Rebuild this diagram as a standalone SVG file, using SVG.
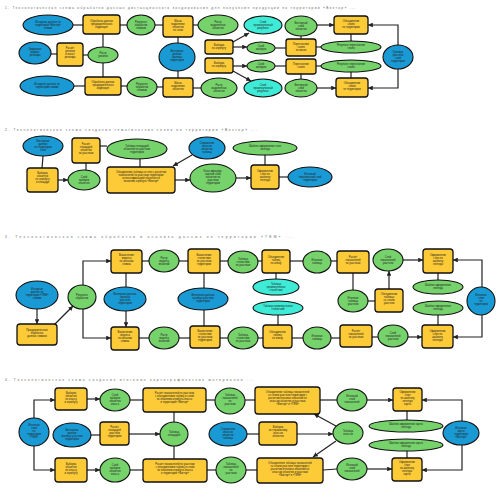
<svg xmlns="http://www.w3.org/2000/svg" width="500" height="500" viewBox="0 0 500 500">
<style>
.y{fill:#FDCB38;stroke:#111;stroke-width:1.3}
.g{fill:#76D26B;stroke:#111;stroke-width:1.1}
.b{fill:#1A9AD4;stroke:#111;stroke-width:1.1}
.c{fill:#3DEBD6;stroke:#111;stroke-width:1.1}
.e path,.e line{stroke:#222;stroke-width:1.2;fill:none}
.ar{marker-end:url(#a)}
.t{font-family:"Liberation Sans",Arial,sans-serif;font-size:2.6px;fill:#222;text-anchor:middle}
.h{font-family:"Liberation Sans",Arial,sans-serif;font-size:3.3px;fill:#666}
</style>
<defs>
<marker id="a" viewBox="0 0 6 6" refX="6" refY="3" markerWidth="4" markerHeight="4" orient="auto"><path d="M0,0L6,3L0,6z" fill="#222"/></marker>
</defs>
<rect width="500" height="500" fill="#fff"/>
<text class="h" x="5" y="9" textLength="350">1. Технологическая схема обработки данных дистанционного зондирования для получения продукции по территории «Вектор» ...</text>
<text class="h" x="5" y="131" textLength="252">2. Технологическая схема создания тематических слоёв по территории «Вектор» ...</text>
<text class="h" x="5" y="238" textLength="288">3. Технологическая схема обработки и анализа данных по территории «ТЕМ» ...</text>
<text class="h" x="5" y="381" textLength="248">4. Технологическая схема создания итоговых картографических материалов ...</text>

<g class="e">
<!-- section 1 -->
<line x1="73" y1="25" x2="83" y2="25"/>
<line x1="120" y1="25" x2="127" y2="25"/>
<line x1="155" y1="25" x2="163" y2="25"/>
<line x1="193" y1="25" x2="198" y2="25"/>
<line class="ar" x1="317" y1="25" x2="334" y2="25"/>
<line x1="51" y1="54" x2="57" y2="54"/>
<line x1="83" y1="55" x2="88" y2="55"/>
<line x1="103" y1="34" x2="103" y2="47"/>
<line x1="103" y1="63" x2="103" y2="77"/>
<line x1="178" y1="37" x2="178" y2="43"/>
<line x1="178" y1="71" x2="178" y2="78"/>
<line class="ar" x1="233" y1="47" x2="247" y2="47"/>
<line class="ar" x1="233" y1="42" x2="249" y2="33"/>
<line class="ar" x1="233" y1="66" x2="247" y2="66"/>
<line class="ar" x1="233" y1="71" x2="251" y2="81"/>
<line x1="275" y1="48" x2="286" y2="48"/>
<line x1="275" y1="66" x2="286" y2="66"/>
<line x1="316" y1="47" x2="321" y2="47"/>
<line x1="316" y1="66" x2="321" y2="66"/>
<line x1="301" y1="36" x2="301" y2="39"/>
<line x1="301" y1="74" x2="301" y2="79"/>
<line x1="351" y1="34" x2="351" y2="41"/>
<line x1="351" y1="72" x2="351" y2="78"/>
<path class="ar" d="M398,45V25H368"/>
<path class="ar" d="M398,69V88H368"/>
<line x1="74" y1="86" x2="85" y2="86"/>
<line x1="121" y1="86" x2="127" y2="86"/>
<line x1="157" y1="87" x2="163" y2="87"/>
<line x1="193" y1="88" x2="201" y2="88"/>
<line class="ar" x1="317" y1="88" x2="336" y2="88"/>
<!-- section 2 -->
<line x1="43" y1="156" x2="42" y2="168"/>
<line class="ar" x1="58" y1="180" x2="68" y2="180"/>
<line x1="86" y1="170" x2="86" y2="163"/>
<line x1="100" y1="146" x2="107" y2="146"/>
<line x1="140" y1="159" x2="140" y2="167"/>
<line class="ar" x1="192" y1="155" x2="173" y2="166"/>
<line class="ar" x1="175" y1="180" x2="190" y2="180"/>
<line class="ar" x1="236" y1="178" x2="251" y2="178"/>
<line x1="265" y1="155" x2="265" y2="165"/>
<line x1="279" y1="177" x2="288" y2="177"/>
<!-- section 3 -->
<line class="ar" x1="37" y1="309" x2="37" y2="324"/>
<line class="ar" x1="54" y1="325" x2="73" y2="306"/>
<path class="ar" d="M83,285V261H111"/>
<path class="ar" d="M83,309V338H111"/>
<line x1="126" y1="273" x2="126" y2="287"/>
<line class="ar" x1="126" y1="311" x2="126" y2="327"/>
<line x1="142" y1="261" x2="149" y2="261"/>
<line x1="179" y1="261" x2="188" y2="261"/>
<line x1="220" y1="261" x2="228" y2="261"/>
<line x1="258" y1="261" x2="262" y2="261"/>
<line x1="290" y1="261" x2="303" y2="261"/>
<line x1="331" y1="261" x2="337" y2="261"/>
<line x1="204" y1="273" x2="204" y2="288"/>
<line x1="204" y1="310" x2="204" y2="326"/>
<line x1="276" y1="273" x2="276" y2="279"/>
<line x1="278" y1="315" x2="278" y2="325"/>
<line x1="353" y1="273" x2="353" y2="290"/>
<line x1="368" y1="301" x2="375" y2="301"/>
<line class="ar" x1="389" y1="289" x2="389" y2="271"/>
<line class="ar" x1="403" y1="260" x2="423" y2="260"/>
<line x1="438" y1="273" x2="438" y2="280"/>
<line x1="438" y1="315" x2="438" y2="325"/>
<path class="ar" d="M482,287V260H453"/>
<path class="ar" d="M482,315V337H453"/>
<line x1="139" y1="338" x2="149" y2="338"/>
<line x1="179" y1="338" x2="190" y2="338"/>
<line x1="220" y1="338" x2="228" y2="338"/>
<line x1="258" y1="338" x2="263" y2="338"/>
<line x1="292" y1="338" x2="303" y2="338"/>
<line x1="331" y1="338" x2="340" y2="338"/>
<line x1="372" y1="337" x2="378" y2="337"/>
<line class="ar" x1="408" y1="337" x2="422" y2="337"/>
<!-- section 4 -->
<path class="ar" d="M34,418V400H55"/>
<path class="ar" d="M34,446V470H55"/>
<line class="ar" x1="87" y1="399" x2="100" y2="399"/>
<line x1="130" y1="400" x2="143" y2="400"/>
<line x1="91" y1="435" x2="100" y2="435"/>
<line class="ar" x1="129" y1="434" x2="160" y2="434"/>
<line class="ar" x1="87" y1="470" x2="100" y2="470"/>
<line x1="130" y1="470" x2="143" y2="470"/>
<line x1="174" y1="412" x2="174" y2="422"/>
<line x1="174" y1="446" x2="174" y2="459"/>
<line x1="206" y1="400" x2="215" y2="400"/>
<line x1="245" y1="400" x2="255" y2="400"/>
<line x1="247" y1="434" x2="259" y2="434"/>
<line class="ar" x1="297" y1="434" x2="333" y2="434"/>
<line x1="207" y1="470" x2="216" y2="470"/>
<line x1="246" y1="470" x2="257" y2="470"/>
<line class="ar" x1="336" y1="426" x2="314" y2="414"/>
<line class="ar" x1="336" y1="441" x2="313" y2="457"/>
<line x1="320" y1="400" x2="337" y2="400"/>
<line class="ar" x1="367" y1="400" x2="393" y2="400"/>
<line x1="323" y1="470" x2="337" y2="469"/>
<line class="ar" x1="367" y1="469" x2="392" y2="469"/>
<line x1="407" y1="411" x2="407" y2="420"/>
<line x1="407" y1="451" x2="407" y2="458"/>
<path class="ar" d="M462,421V400H422"/>
<path class="ar" d="M462,445V470H422"/>
</g>

<!-- SECTION 1 nodes -->
<g id="n1"><ellipse class="b" cx="48" cy="25" rx="25" ry="10"/><text class="t" x="48" y="23"><tspan x="48">Исходные данные по</tspan><tspan x="48" dy="3">территории «Вектор»</tspan><tspan x="48" dy="3">снимки</tspan></text></g>
<g id="n2"><rect class="y" x="83" y="15" width="37" height="19" rx="3"/><text class="t" x="101.5" y="22"><tspan x="101.5">Обработка данных</tspan><tspan x="101.5" dy="3">предварительная</tspan><tspan x="101.5" dy="3">коррекция</tspan></text></g>
<g id="n3"><ellipse class="g" cx="141" cy="25" rx="14" ry="10"/><text class="t" x="141" y="23"><tspan x="141">Результат</tspan><tspan x="141" dy="3">обработки</tspan><tspan x="141" dy="3">снимков</tspan></text></g>
<g id="n4"><rect class="y" x="163" y="16" width="30" height="21" rx="3"/><text class="t" x="178" y="22"><tspan x="178">Маска</tspan><tspan x="178" dy="3">выделение</tspan><tspan x="178" dy="3">объектов</tspan><tspan x="178" dy="3">по слою</tspan></text></g>
<g id="n5"><ellipse class="g" cx="218" cy="25" rx="20" ry="10"/><text class="t" x="218" y="23"><tspan x="218">Растр</tspan><tspan x="218" dy="3">выделенных</tspan><tspan x="218" dy="3">объектов</tspan></text></g>
<g id="n6"><ellipse class="c" cx="263" cy="25" rx="19" ry="9"/><text class="t" x="263" y="23"><tspan x="263">Слой</tspan><tspan x="263" dy="3">промежуточный</tspan><tspan x="263" dy="3">результат</tspan></text></g>
<g id="n7"><ellipse class="g" cx="301" cy="26" rx="16" ry="10"/><text class="t" x="301" y="24"><tspan x="301">Векторный</tspan><tspan x="301" dy="3">слой</tspan><tspan x="301" dy="3">объектов</tspan></text></g>
<g id="n8"><rect class="y" x="334" y="16" width="34" height="18" rx="3"/><text class="t" x="351" y="22"><tspan x="351">Объединение</tspan><tspan x="351" dy="3">слоёв</tspan><tspan x="351" dy="3">по территории</tspan></text></g>
<g id="n9"><ellipse class="b" cx="35" cy="53" rx="16" ry="11"/><text class="t" x="35" y="50"><tspan x="35">Цифровая</tspan><tspan x="35" dy="3">модель</tspan><tspan x="35" dy="3">рельефа</tspan></text></g>
<g id="n10"><rect class="y" x="57" y="43" width="26" height="23" rx="3"/><text class="t" x="70" y="49"><tspan x="70">Расчёт</tspan><tspan x="70" dy="3">уклонов</tspan><tspan x="70" dy="3">и высот</tspan><tspan x="70" dy="3">рельефа</tspan></text></g>
<g id="n11"><ellipse class="g" cx="103" cy="55" rx="15" ry="8"/><text class="t" x="103" y="54"><tspan x="103">Растр</tspan><tspan x="103" dy="3">уклонов</tspan></text></g>
<g id="n12"><ellipse class="b" cx="177" cy="57" rx="18" ry="14"/><text class="t" x="177" y="52"><tspan x="177">Векторные</tspan><tspan x="177" dy="3">данные</tspan><tspan x="177" dy="3">границы</tspan><tspan x="177" dy="3">территории</tspan></text></g>
<g id="n13"><rect class="y" x="205" y="40" width="28" height="14" rx="2.5"/><text class="t" x="219" y="46"><tspan x="219">Выборка</tspan><tspan x="219" dy="3">по атрибуту</tspan></text></g>
<g id="n14"><ellipse class="g" cx="261" cy="48" rx="14" ry="6"/><text class="t" x="261" y="47"><tspan x="261">Слой</tspan><tspan x="261" dy="3">выборки</tspan></text></g>
<g id="n15"><rect class="y" x="286" y="39" width="30" height="17" rx="2.5"/><text class="t" x="301" y="45"><tspan x="301">Пересечение</tspan><tspan x="301" dy="3">слоёв</tspan><tspan x="301" dy="3">по маске</tspan></text></g>
<g id="n16"><ellipse class="g" cx="351" cy="47" rx="30" ry="6"/><text class="t" x="351" y="46"><tspan x="351">Результат пересечения</tspan><tspan x="351" dy="3">слоёв</tspan></text></g>
<g id="n17"><rect class="y" x="205" y="58" width="28" height="15" rx="2.5"/><text class="t" x="219" y="64"><tspan x="219">Выборка</tspan><tspan x="219" dy="3">по атрибуту</tspan></text></g>
<g id="n18"><ellipse class="g" cx="261" cy="66" rx="14" ry="6"/><text class="t" x="261" y="65"><tspan x="261">Слой</tspan><tspan x="261" dy="3">выборки</tspan></text></g>
<g id="n19"><rect class="y" x="286" y="59" width="30" height="15" rx="2.5"/><text class="t" x="301" y="65"><tspan x="301">Пересечение</tspan><tspan x="301" dy="3">слоёв</tspan></text></g>
<g id="n20"><ellipse class="g" cx="351" cy="66" rx="30" ry="6"/><text class="t" x="351" y="65"><tspan x="351">Результат пересечения</tspan><tspan x="351" dy="3">слоёв</tspan></text></g>
<g id="n21"><ellipse class="b" cx="398" cy="57" rx="15" ry="12"/><text class="t" x="398" y="53"><tspan x="398">Границы</tspan><tspan x="398" dy="3">участков</tspan><tspan x="398" dy="3">слой</tspan><tspan x="398" dy="3">территории</tspan></text></g>
<g id="n22"><ellipse class="b" cx="47" cy="86" rx="27" ry="10"/><text class="t" x="47" y="85"><tspan x="47">Исходные данные по</tspan><tspan x="47" dy="3">территории снимки</tspan></text></g>
<g id="n23"><rect class="y" x="85" y="77" width="36" height="18" rx="3"/><text class="t" x="103" y="83"><tspan x="103">Обработка данных</tspan><tspan x="103" dy="3">предварительная</tspan><tspan x="103" dy="3">коррекция</tspan></text></g>
<g id="n24"><ellipse class="g" cx="142" cy="87" rx="15" ry="10"/><text class="t" x="142" y="85"><tspan x="142">Результат</tspan><tspan x="142" dy="3">обработки</tspan><tspan x="142" dy="3">снимков</tspan></text></g>
<g id="n25"><rect class="y" x="163" y="78" width="30" height="19" rx="3"/><text class="t" x="178" y="84"><tspan x="178">Маска</tspan><tspan x="178" dy="3">выделение</tspan><tspan x="178" dy="3">объектов</tspan></text></g>
<g id="n26"><ellipse class="g" cx="219" cy="88" rx="18" ry="10"/><text class="t" x="219" y="86"><tspan x="219">Растр</tspan><tspan x="219" dy="3">выделенных</tspan><tspan x="219" dy="3">объектов</tspan></text></g>
<g id="n27"><ellipse class="c" cx="263" cy="88" rx="19" ry="9"/><text class="t" x="263" y="86"><tspan x="263">Слой</tspan><tspan x="263" dy="3">промежуточный</tspan><tspan x="263" dy="3">результат</tspan></text></g>
<g id="n28"><ellipse class="g" cx="301" cy="88" rx="16" ry="9"/><text class="t" x="301" y="86"><tspan x="301">Векторный</tspan><tspan x="301" dy="3">слой</tspan><tspan x="301" dy="3">объектов</tspan></text></g>
<g id="n29"><rect class="y" x="336" y="78" width="32" height="19" rx="3"/><text class="t" x="352" y="84"><tspan x="352">Объединение</tspan><tspan x="352" dy="3">слоёв</tspan><tspan x="352" dy="3">по территории</tspan></text></g>

<!-- SECTION 2 nodes -->
<g id="s1"><ellipse class="b" cx="43" cy="146" rx="20" ry="10"/><text class="t" x="43" y="142"><tspan x="43">Векторные</tspan><tspan x="43" dy="3">данные</tspan><tspan x="43" dy="3">по территории</tspan><tspan x="43" dy="3">слой</tspan></text></g>
<g id="s2"><rect class="y" x="72" y="138" width="28" height="25" rx="3"/><text class="t" x="86" y="145"><tspan x="86">Расчёт</tspan><tspan x="86" dy="3">площадей</tspan><tspan x="86" dy="3">объектов</tspan><tspan x="86" dy="3">по участкам</tspan></text></g>
<g id="s3"><ellipse class="g" cx="137" cy="149" rx="30" ry="10"/><text class="t" x="137" y="147"><tspan x="137">Таблица площадей</tspan><tspan x="137" dy="3">объектов по участкам</tspan><tspan x="137" dy="3">территории</tspan></text></g>
<g id="s4"><rect class="y" x="27" y="168" width="31" height="24" rx="3"/><text class="t" x="42.5" y="174"><tspan x="42.5">Выборка</tspan><tspan x="42.5" dy="3">объектов</tspan><tspan x="42.5" dy="3">по атрибуту</tspan><tspan x="42.5" dy="3">и площади</tspan></text></g>
<g id="s5"><ellipse class="g" cx="84" cy="180" rx="16" ry="10"/><text class="t" x="84" y="178"><tspan x="84">Слой</tspan><tspan x="84" dy="3">выборки</tspan><tspan x="84" dy="3">объектов</tspan></text></g>
<g id="s6"><rect class="y" x="107" y="167" width="68" height="26" rx="3"/><text class="t" x="141" y="173"><tspan x="141">Объединение таблицы и слоя с расчётом</tspan><tspan x="141" dy="3">показателей по участкам территории</tspan><tspan x="141" dy="3">и классификацией объектов по</tspan><tspan x="141" dy="3">значению атрибута «Вектор»</tspan></text></g>
<g id="s7"><ellipse class="b" cx="207" cy="148" rx="18" ry="11"/><text class="t" x="207" y="144"><tspan x="207">Справочник</tspan><tspan x="207" dy="3">классов</tspan><tspan x="207" dy="3">объектов</tspan><tspan x="207" dy="3">таблица</tspan></text></g>
<g id="s8"><ellipse class="g" cx="213" cy="178" rx="23" ry="14"/><text class="t" x="213" y="172"><tspan x="213">Классифициро-</tspan><tspan x="213" dy="3">ванный слой</tspan><tspan x="213" dy="3">объектов по</tspan><tspan x="213" dy="3">участкам</tspan><tspan x="213" dy="3">территории</tspan></text></g>
<g id="s9"><ellipse class="g" cx="265" cy="148" rx="32" ry="7"/><text class="t" x="265" y="147"><tspan x="265">Шаблон оформления слоя</tspan><tspan x="265" dy="3">легенда</tspan></text></g>
<g id="s10"><rect class="y" x="251" y="165" width="28" height="24" rx="3"/><text class="t" x="265" y="172"><tspan x="265">Оформление</tspan><tspan x="265" dy="3">слоя по</tspan><tspan x="265" dy="3">шаблону</tspan><tspan x="265" dy="3">легенды</tspan></text></g>
<g id="s11"><ellipse class="b" cx="310" cy="177" rx="22" ry="10"/><text class="t" x="310" y="175"><tspan x="310">Итоговый</tspan><tspan x="310" dy="3">тематический слой</tspan><tspan x="310" dy="3">территории</tspan></text></g>

<!-- SECTION 3 nodes -->
<g id="t1"><ellipse class="b" cx="37" cy="295" rx="21" ry="14"/><text class="t" x="37" y="290"><tspan x="37">Исходные</tspan><tspan x="37" dy="3">данные по</tspan><tspan x="37" dy="3">территории «ТЕМ»</tspan><tspan x="37" dy="3">снимки</tspan></text></g>
<g id="t2"><rect class="y" x="17" y="324" width="40" height="21" rx="3"/><text class="t" x="37" y="331"><tspan x="37">Предварительная</tspan><tspan x="37" dy="3">обработка</tspan><tspan x="37" dy="3">данных снимков</tspan></text></g>
<g id="t3"><ellipse class="g" cx="82" cy="297" rx="14" ry="12"/><text class="t" x="82" y="296"><tspan x="82">Результат</tspan><tspan x="82" dy="3">обработки</tspan></text></g>
<g id="t4"><rect class="y" x="111" y="250" width="31" height="23" rx="3"/><text class="t" x="126.5" y="256"><tspan x="126.5">Вычисление</tspan><tspan x="126.5" dy="3">индекса</tspan><tspan x="126.5" dy="3">по каналам</tspan><tspan x="126.5" dy="3">снимка</tspan></text></g>
<g id="t5"><ellipse class="b" cx="125" cy="299" rx="21" ry="12"/><text class="t" x="125" y="295"><tspan x="125">Векторные данные</tspan><tspan x="125" dy="3">границы</tspan><tspan x="125" dy="3">участков</tspan><tspan x="125" dy="3">территории</tspan></text></g>
<g id="t6"><rect class="y" x="111" y="327" width="28" height="23" rx="3"/><text class="t" x="125" y="333"><tspan x="125">Вычисление</tspan><tspan x="125" dy="3">индекса</tspan><tspan x="125" dy="3">по каналам</tspan><tspan x="125" dy="3">снимка</tspan></text></g>
<g id="t7"><ellipse class="g" cx="164" cy="261" rx="15" ry="11"/><text class="t" x="164" y="259"><tspan x="164">Растр</tspan><tspan x="164" dy="3">индекса</tspan><tspan x="164" dy="3">значений</tspan></text></g>
<g id="t8"><rect class="y" x="188" y="249" width="32" height="24" rx="3"/><text class="t" x="204" y="256"><tspan x="204">Вычисление</tspan><tspan x="204" dy="3">статистики</tspan><tspan x="204" dy="3">по участкам</tspan><tspan x="204" dy="3">территории</tspan></text></g>
<g id="t9"><ellipse class="g" cx="243" cy="262" rx="15" ry="11"/><text class="t" x="243" y="260"><tspan x="243">Таблица</tspan><tspan x="243" dy="3">статистики</tspan><tspan x="243" dy="3">по участкам</tspan></text></g>
<g id="t10"><rect class="y" x="262" y="250" width="28" height="23" rx="3"/><text class="t" x="276" y="258"><tspan x="276">Объединение</tspan><tspan x="276" dy="3">таблиц</tspan><tspan x="276" dy="3">по ключу</tspan></text></g>
<g id="t11"><ellipse class="g" cx="317" cy="262" rx="14" ry="11"/><text class="t" x="317" y="261"><tspan x="317">Итоговая</tspan><tspan x="317" dy="3">таблица</tspan></text></g>
<g id="t12"><rect class="y" x="337" y="251" width="32" height="22" rx="3"/><text class="t" x="353" y="258"><tspan x="353">Расчёт</tspan><tspan x="353" dy="3">показателей</tspan><tspan x="353" dy="3">по участкам</tspan></text></g>
<g id="t13"><ellipse class="g" cx="388" cy="260" rx="15" ry="11"/><text class="t" x="388" y="258"><tspan x="388">Слой</tspan><tspan x="388" dy="3">показателей</tspan><tspan x="388" dy="3">участков</tspan></text></g>
<g id="t14"><rect class="y" x="423" y="249" width="30" height="24" rx="3"/><text class="t" x="438" y="256"><tspan x="438">Оформление</tspan><tspan x="438" dy="3">слоя по</tspan><tspan x="438" dy="3">шаблону</tspan><tspan x="438" dy="3">легенды</tspan></text></g>
<g id="t15"><ellipse class="b" cx="203" cy="299" rx="25" ry="11"/><text class="t" x="203" y="296"><tspan x="203">Векторные данные</tspan><tspan x="203" dy="3">границы участков</tspan><tspan x="203" dy="3">территории</tspan></text></g>
<g id="t16"><ellipse class="c" cx="276" cy="287" rx="23" ry="8"/><text class="t" x="276" y="285"><tspan x="276">Таблица</tspan><tspan x="276" dy="3">промежуточная</tspan><tspan x="276" dy="3">статистики</tspan></text></g>
<g id="t17"><ellipse class="c" cx="278" cy="308" rx="25" ry="7"/><text class="t" x="278" y="307"><tspan x="278">Таблица промежуточная</tspan><tspan x="278" dy="3">статистики</tspan></text></g>
<g id="t18"><ellipse class="g" cx="353" cy="301" rx="15" ry="11"/><text class="t" x="353" y="299"><tspan x="353">Итоговая</tspan><tspan x="353" dy="3">таблица</tspan><tspan x="353" dy="3">участков</tspan></text></g>
<g id="t19"><rect class="y" x="375" y="289" width="28" height="23" rx="3"/><text class="t" x="389" y="295"><tspan x="389">Объединение</tspan><tspan x="389" dy="3">таблицы</tspan><tspan x="389" dy="3">со слоем</tspan><tspan x="389" dy="3">участков</tspan></text></g>
<g id="t20"><ellipse class="g" cx="438" cy="287" rx="25" ry="7"/><text class="t" x="438" y="286"><tspan x="438">Шаблон оформления</tspan><tspan x="438" dy="3">легенда</tspan></text></g>
<g id="t21"><ellipse class="g" cx="438" cy="308" rx="25" ry="7"/><text class="t" x="438" y="307"><tspan x="438">Шаблон оформления</tspan><tspan x="438" dy="3">легенда</tspan></text></g>
<g id="t22"><ellipse class="b" cx="481" cy="301" rx="14" ry="14"/><text class="t" x="481" y="296"><tspan x="481">Итоговые</tspan><tspan x="481" dy="3">слои</tspan><tspan x="481" dy="3">по</tspan><tspan x="481" dy="3">территории</tspan></text></g>
<g id="t23"><ellipse class="g" cx="164" cy="338" rx="15" ry="11"/><text class="t" x="164" y="336"><tspan x="164">Растр</tspan><tspan x="164" dy="3">индекса</tspan><tspan x="164" dy="3">значений</tspan></text></g>
<g id="t24"><rect class="y" x="190" y="326" width="30" height="22" rx="3"/><text class="t" x="205" y="332"><tspan x="205">Вычисление</tspan><tspan x="205" dy="3">статистики</tspan><tspan x="205" dy="3">по участкам</tspan><tspan x="205" dy="3">территории</tspan></text></g>
<g id="t25"><ellipse class="g" cx="243" cy="338" rx="15" ry="11"/><text class="t" x="243" y="336"><tspan x="243">Таблица</tspan><tspan x="243" dy="3">статистики</tspan><tspan x="243" dy="3">по участкам</tspan></text></g>
<g id="t26"><rect class="y" x="263" y="325" width="29" height="23" rx="3"/><text class="t" x="277.5" y="333"><tspan x="277.5">Объединение</tspan><tspan x="277.5" dy="3">таблиц</tspan><tspan x="277.5" dy="3">по ключу</tspan></text></g>
<g id="t27"><ellipse class="g" cx="317" cy="338" rx="14" ry="11"/><text class="t" x="317" y="337"><tspan x="317">Итоговая</tspan><tspan x="317" dy="3">таблица</tspan></text></g>
<g id="t28"><rect class="y" x="340" y="325" width="32" height="22" rx="3"/><text class="t" x="356" y="332"><tspan x="356">Расчёт</tspan><tspan x="356" dy="3">показателей</tspan><tspan x="356" dy="3">по участкам</tspan></text></g>
<g id="t29"><ellipse class="g" cx="393" cy="336" rx="15" ry="11"/><text class="t" x="393" y="334"><tspan x="393">Слой</tspan><tspan x="393" dy="3">показателей</tspan><tspan x="393" dy="3">участков</tspan></text></g>
<g id="t30"><rect class="y" x="422" y="325" width="31" height="23" rx="3"/><text class="t" x="437.5" y="332"><tspan x="437.5">Оформление</tspan><tspan x="437.5" dy="3">слоя по</tspan><tspan x="437.5" dy="3">шаблону</tspan><tspan x="437.5" dy="3">легенды</tspan></text></g>

<!-- SECTION 4 nodes -->
<g id="u1"><ellipse class="b" cx="34" cy="432" rx="15" ry="14"/><text class="t" x="34" y="426"><tspan x="34">Итоговые</tspan><tspan x="34" dy="3">слои</tspan><tspan x="34" dy="3">по</tspan><tspan x="34" dy="3">территории</tspan><tspan x="34" dy="3">«ТЕМ»</tspan></text></g>
<g id="u2"><rect class="y" x="55" y="388" width="32" height="22" rx="3"/><text class="t" x="71" y="394"><tspan x="71">Выборка</tspan><tspan x="71" dy="3">объектов</tspan><tspan x="71" dy="3">по классу</tspan><tspan x="71" dy="3">и атрибуту</tspan></text></g>
<g id="u3"><ellipse class="g" cx="115" cy="400" rx="15" ry="11"/><text class="t" x="115" y="396"><tspan x="115">Слой</tspan><tspan x="115" dy="3">выборки</tspan><tspan x="115" dy="3">объектов</tspan><tspan x="115" dy="3">класса</tspan></text></g>
<g id="u4"><rect class="y" x="143" y="388" width="63" height="24" rx="3"/><text class="t" x="174.5" y="394"><tspan x="174.5">Расчёт показателей по участкам</tspan><tspan x="174.5" dy="3">с объединением таблиц и слоёв</tspan><tspan x="174.5" dy="3">по значению атрибута класса</tspan><tspan x="174.5" dy="3">и территории «Вектор»</tspan></text></g>
<g id="u5"><ellipse class="b" cx="72" cy="435" rx="19" ry="12"/><text class="t" x="72" y="431"><tspan x="72">Векторные</tspan><tspan x="72" dy="3">данные</tspan><tspan x="72" dy="3">границы участков</tspan><tspan x="72" dy="3">территории</tspan></text></g>
<g id="u6"><rect class="y" x="100" y="422" width="29" height="23" rx="3"/><text class="t" x="114.5" y="428"><tspan x="114.5">Расчёт</tspan><tspan x="114.5" dy="3">площадей</tspan><tspan x="114.5" dy="3">участков</tspan><tspan x="114.5" dy="3">территории</tspan></text></g>
<g id="u7"><rect class="y" x="55" y="458" width="32" height="24" rx="3"/><text class="t" x="71" y="465"><tspan x="71">Выборка</tspan><tspan x="71" dy="3">объектов</tspan><tspan x="71" dy="3">по классу</tspan><tspan x="71" dy="3">и атрибуту</tspan></text></g>
<g id="u8"><ellipse class="g" cx="115" cy="470" rx="15" ry="12"/><text class="t" x="115" y="466"><tspan x="115">Слой</tspan><tspan x="115" dy="3">выборки</tspan><tspan x="115" dy="3">объектов</tspan><tspan x="115" dy="3">класса</tspan></text></g>
<g id="u9"><rect class="y" x="143" y="459" width="64" height="23" rx="3"/><text class="t" x="175" y="465"><tspan x="175">Расчёт показателей по участкам</tspan><tspan x="175" dy="3">с объединением таблиц и слоёв</tspan><tspan x="175" dy="3">по значению атрибута класса</tspan><tspan x="175" dy="3">и территории «Вектор»</tspan></text></g>
<g id="u10"><ellipse class="g" cx="230" cy="401" rx="15" ry="13"/><text class="t" x="230" y="396"><tspan x="230">Таблица</tspan><tspan x="230" dy="3">показателей</tspan><tspan x="230" dy="3">по</tspan><tspan x="230" dy="3">участкам</tspan></text></g>
<g id="u11"><rect class="y" x="255" y="387" width="65" height="27" rx="3"/><text class="t" x="287.5" y="393"><tspan x="287.5">Объединение таблицы показателей</tspan><tspan x="287.5" dy="3">со слоем участков территории с</tspan><tspan x="287.5" dy="3">расчётом итоговых значений по</tspan><tspan x="287.5" dy="3">классам объектов и участкам</tspan><tspan x="287.5" dy="3">«Вектор» и «ТЕМ»</tspan></text></g>
<g id="u12"><ellipse class="g" cx="174" cy="434" rx="14" ry="12"/><text class="t" x="174" y="433"><tspan x="174">Таблица</tspan><tspan x="174" dy="3">площадей</tspan></text></g>
<g id="u13"><ellipse class="b" cx="228" cy="434" rx="19" ry="12"/><text class="t" x="228" y="430"><tspan x="228">Справочник</tspan><tspan x="228" dy="3">классов</tspan><tspan x="228" dy="3">объектов</tspan><tspan x="228" dy="3">таблица</tspan></text></g>
<g id="u14"><rect class="y" x="259" y="422" width="38" height="23" rx="3"/><text class="t" x="278" y="428"><tspan x="278">Выборка</tspan><tspan x="278" dy="3">по справочнику</tspan><tspan x="278" dy="3">классов</tspan><tspan x="278" dy="3">объектов</tspan></text></g>
<g id="u15"><ellipse class="g" cx="231" cy="470" rx="15" ry="13"/><text class="t" x="231" y="465"><tspan x="231">Таблица</tspan><tspan x="231" dy="3">показателей</tspan><tspan x="231" dy="3">по</tspan><tspan x="231" dy="3">участкам</tspan></text></g>
<g id="u16"><rect class="y" x="257" y="458" width="66" height="25" rx="3"/><text class="t" x="290" y="464"><tspan x="290">Объединение таблицы показателей</tspan><tspan x="290" dy="3">со слоем участков территории с</tspan><tspan x="290" dy="3">расчётом итоговых значений по</tspan><tspan x="290" dy="3">классам объектов и участкам</tspan><tspan x="290" dy="3">«Вектор» и «ТЕМ»</tspan></text></g>
<g id="u17"><ellipse class="g" cx="352" cy="400" rx="15" ry="11"/><text class="t" x="352" y="397"><tspan x="352">Итоговый</tspan><tspan x="352" dy="3">слой</tspan><tspan x="352" dy="3">показателей</tspan></text></g>
<g id="u18"><rect class="y" x="393" y="388" width="29" height="23" rx="3"/><text class="t" x="407.5" y="393"><tspan x="407.5">Оформление</tspan><tspan x="407.5" dy="3">слоя</tspan><tspan x="407.5" dy="3">по шаблону</tspan><tspan x="407.5" dy="3">легенды</tspan><tspan x="407.5" dy="3">карты</tspan></text></g>
<g id="u19"><ellipse class="g" cx="348" cy="433" rx="15" ry="11"/><text class="t" x="348" y="432"><tspan x="348">Таблица</tspan><tspan x="348" dy="3">классов</tspan></text></g>
<g id="u20"><ellipse class="g" cx="406" cy="426" rx="37" ry="6"/><text class="t" x="406" y="425"><tspan x="406">Шаблон оформления карты</tspan><tspan x="406" dy="3">легенда</tspan></text></g>
<g id="u21"><ellipse class="g" cx="406" cy="445" rx="37" ry="6"/><text class="t" x="406" y="444"><tspan x="406">Шаблон оформления карты</tspan><tspan x="406" dy="3">легенда</tspan></text></g>
<g id="u22"><ellipse class="b" cx="461" cy="433" rx="18" ry="12"/><text class="t" x="461" y="429"><tspan x="461">Итоговые</tspan><tspan x="461" dy="3">карты</tspan><tspan x="461" dy="3">территории</tspan><tspan x="461" dy="3">«Вектор»</tspan></text></g>
<g id="u23"><ellipse class="g" cx="352" cy="469" rx="15" ry="11"/><text class="t" x="352" y="466"><tspan x="352">Итоговый</tspan><tspan x="352" dy="3">слой</tspan><tspan x="352" dy="3">показателей</tspan></text></g>
<g id="u24"><rect class="y" x="392" y="458" width="30" height="23" rx="3"/><text class="t" x="407" y="463"><tspan x="407">Оформление</tspan><tspan x="407" dy="3">слоя</tspan><tspan x="407" dy="3">по шаблону</tspan><tspan x="407" dy="3">легенды</tspan><tspan x="407" dy="3">карты</tspan></text></g>
</svg>
